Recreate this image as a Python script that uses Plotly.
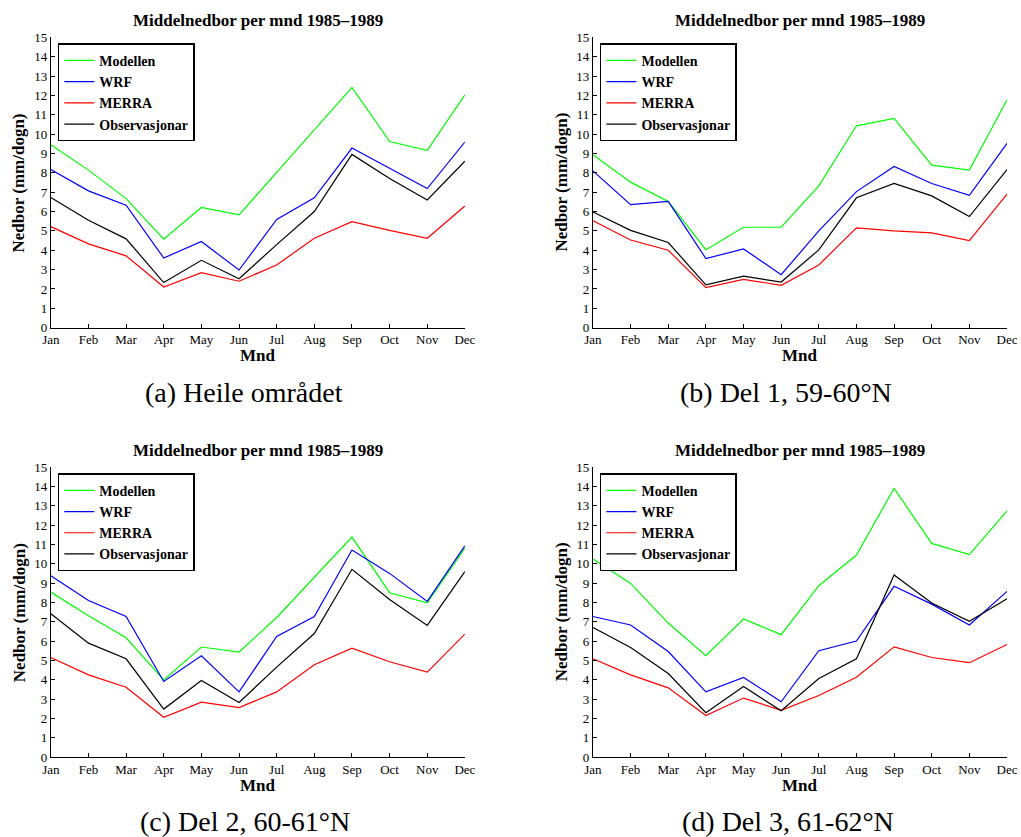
import plotly.graph_objects as go

months = ["Jan", "Feb", "Mar", "Apr", "May", "Jun", "Jul", "Aug", "Sep", "Oct", "Nov", "Dec"]
series_names = ["Modellen", "WRF", "MERRA", "Observasjonar"]

# (a) Heile området
a_modellen = [9.45, 8.14, 6.67, 4.57, 6.21, 5.83, 8.02, 10.22, 12.41, 9.62, 9.16, 12.03]
a_wrf = [8.17, 7.07, 6.33, 3.60, 4.45, 2.98, 5.59, 6.71, 9.28, 8.22, 7.19, 9.59]
a_merra = [5.22, 4.33, 3.71, 2.10, 2.84, 2.40, 3.24, 4.62, 5.48, 5.03, 4.62, 6.29]
a_obs = [6.72, 5.55, 4.59, 2.33, 3.48, 2.53, 4.29, 6.00, 8.95, 7.71, 6.60, 8.60]

# (b) Del 1, 59-60°N
b_modellen = [8.93, 7.52, 6.52, 4.03, 5.19, 5.19, 7.33, 10.43, 10.81, 8.40, 8.14, 11.78]
b_wrf = [8.10, 6.36, 6.52, 3.57, 4.07, 2.74, 5.00, 7.03, 8.33, 7.45, 6.84, 9.52]
b_merra = [5.52, 4.53, 4.00, 2.07, 2.50, 2.19, 3.24, 5.16, 5.00, 4.90, 4.50, 6.90]
b_obs = [5.98, 5.03, 4.40, 2.21, 2.66, 2.36, 4.02, 6.71, 7.45, 6.81, 5.74, 8.16]

# (c) Del 2, 60-61°N
c_modellen = [8.54, 7.32, 6.18, 4.00, 5.70, 5.44, 7.23, 9.30, 11.39, 8.51, 7.99, 10.82]
c_wrf = [9.39, 8.11, 7.28, 3.92, 5.25, 3.38, 6.25, 7.28, 10.72, 9.51, 8.06, 10.94]
c_merra = [5.16, 4.26, 3.62, 2.07, 2.85, 2.57, 3.38, 4.78, 5.64, 4.94, 4.40, 6.37]
c_obs = [7.42, 5.90, 5.09, 2.49, 3.97, 2.83, 4.66, 6.40, 9.72, 8.16, 6.82, 9.60]

# (d) Del 3, 61-62°N
d_modellen = [10.25, 8.99, 6.94, 5.25, 7.15, 6.34, 8.87, 10.46, 13.91, 11.06, 10.48, 12.74]
d_wrf = [7.28, 6.84, 5.47, 3.38, 4.13, 2.87, 5.51, 6.01, 8.84, 7.92, 6.84, 8.58]
d_merra = [5.09, 4.26, 3.59, 2.16, 3.06, 2.43, 3.19, 4.14, 5.71, 5.16, 4.89, 5.83]
d_obs = [6.71, 5.68, 4.33, 2.30, 3.66, 2.40, 4.07, 5.09, 9.43, 7.98, 7.03, 8.20]

captions = ["(a) Heile området", "(b) Del 1, 59-60°N", "(c) Del 2, 60-61°N", "(d) Del 3, 61-62°N"]
panel_title = "Middelnedbor per mnd 1985–1989"
y_title = "Nedbor (mm/dogn)"
x_title = "Mnd"
y_ticks = list(range(0, 16))

data = [
    [a_modellen, a_wrf, a_merra, a_obs],
    [b_modellen, b_wrf, b_merra, b_obs],
    [c_modellen, c_wrf, c_merra, c_obs],
    [d_modellen, d_wrf, d_merra, d_obs],
]

colors = ["#00ff00", "#0000ff", "#ff0000", "#000000"]

W, H = 1021, 837
FONT = "Liberation Serif"

# target plot-area pixel boxes in the final picture (left, right, top, bottom)
boxes = [
    (50, 465.7, 38.3, 328.3),
    (594.3, 1010, 38.3, 328.3),
    (50, 465.7, 467.7, 757.3),
    (594.3, 1010, 467.7, 757.3),
]
caption_pos = [(244, 393), (788, 393), (245, 822), (790, 822)]

# the page renders the figure inside an 8px body margin (about 1005 x 821 px)
OFF, EW, EH = 8.0, 1005.0, 821.0


def px(x):
    return (x - OFF) / EW


def py(y):
    return 1 - (y - OFF) / EH


fig = go.Figure()
annotations = []
layout = dict()

for i, (series, box) in enumerate(zip(data, boxes)):
    n = "" if i == 0 else str(i + 1)
    xa, ya = "x" + n, "y" + n
    legend_id = "legend" + n
    for name, vals, col in zip(series_names, series, colors):
        fig.add_trace(go.Scatter(
            x=months, y=vals, mode="lines", name=name,
            line=dict(color=col, width=1.2),
            xaxis=xa, yaxis=ya, legend=legend_id,
        ))
    l, r, t, b = box
    layout["xaxis" + n] = dict(
        domain=[px(l), px(r)], anchor=ya, range=[0, 11],
        showline=True, linecolor="black", linewidth=1.2,
        ticks="inside", ticklen=4, tickcolor="black",
        showgrid=False, zeroline=False,
        tickfont=dict(family=FONT, size=13, color="black"),
    )
    layout["yaxis" + n] = dict(
        domain=[py(b), py(t)], anchor=xa, range=[0, 15],
        tickvals=y_ticks,
        showline=True, linecolor="black", linewidth=1.2,
        ticks="inside", ticklen=4, tickcolor="black",
        showgrid=False, zeroline=False,
        tickfont=dict(family=FONT, size=13, color="black"),
    )
    layout[legend_id] = dict(
        x=px(l + 7), y=py(t + 6), xanchor="left", yanchor="top",
        xref="paper", yref="paper",
        bgcolor="white", bordercolor="black", borderwidth=1.5,
        font=dict(family=FONT, size=14, color="black", weight="bold"),
        tracegroupgap=0, itemwidth=30,
    )
    cx = (l + r) / 2
    annotations.append(dict(
        text=panel_title, x=px(cx), y=py(t - 17), xref="paper", yref="paper",
        showarrow=False, xanchor="center", yanchor="middle",
        font=dict(family=FONT, size=17, color="black", weight="bold"),
    ))
    annotations.append(dict(
        text=x_title, x=px(cx), y=py(b + 28), xref="paper", yref="paper",
        showarrow=False, xanchor="center", yanchor="middle",
        font=dict(family=FONT, size=17, color="black", weight="bold"),
    ))
    annotations.append(dict(
        text=y_title, x=px(l - 32), y=py((t + b) / 2), xref="paper", yref="paper",
        showarrow=False, xanchor="center", yanchor="middle", textangle=-90,
        font=dict(family=FONT, size=17, color="black", weight="bold"),
    ))
    cxp, cyp = caption_pos[i]
    annotations.append(dict(
        text=captions[i], x=px(cxp), y=py(cyp), xref="paper", yref="paper",
        showarrow=False, xanchor="center", yanchor="middle",
        font=dict(family=FONT, size=28, color="black"),
    ))

fig.update_layout(
    width=W, height=H,
    margin=dict(l=0, r=0, t=0, b=0),
    paper_bgcolor="white", plot_bgcolor="white",
    showlegend=True,
    annotations=annotations,
    **layout,
)

fig.write_html("out.html")
